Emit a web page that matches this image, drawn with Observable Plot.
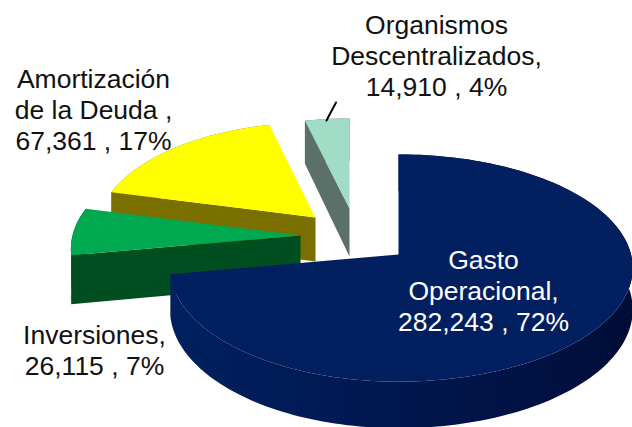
<!DOCTYPE html>
<html>
<head>
<meta charset="utf-8">
<script src="https://cdn.jsdelivr.net/npm/d3@7"></script>
<script src="https://cdn.jsdelivr.net/npm/@observablehq/plot@0.6"></script>
<style>html,body{margin:0;padding:0;background:#fff}svg{display:block}</style>
</head>
<body>
<div id="chart"></div>
<script>
const categories = ["Gasto Operacional", "Inversiones", "Amortización de la Deuda", "Organismos Descentralizados"];
const values = [282243, 26115, 67361, 14910];
const percents = [72, 7, 17, 4];
const nameLines = [["Gasto", "Operacional,"], ["Inversiones,"], ["Amortización", "de la Deuda ,"], ["Organismos", "Descentralizados,"]];

// layout of the exploded 3D view (not data)
const apexX = [398, 300, 315, 349];
const apexY = [254, 235, 217, 208];
const radiusScale = [1, 1, 0.95, 0.9];
const rightStretch = [1.02, 1, 1, 1];
const leftSquash = [0.995, 1, 1, 1.02];
const depth = [41, 48, 44, 48];
const topFill = ["#02205f", "#00a850", "#ffff00", "#a0dcc6"];
const wallFill = ["url(#blueWall)", "#014f20", "#7a7000", "#5a7068"];
const labelX = [483, 94, 93, 436];
const labelY = [290, 349, 109, 55];
const labelFill = ["#ffffff", "#111111", "#111111", "#111111"];

const R = 228, BY = 112, PERSP = 0.119;
const total = d3.sum(values);
let acc = 0;
const spans = values.map(v => { const a = acc; acc += v; return [a / total * 2 * Math.PI, acc / total * 2 * Math.PI]; });

function project(i, t, r, down) {
  const X = Math.sin(t) * r, Y = Math.cos(t) * r, k = 1 / (1 + PERSP * Y), s = radiusScale[i];
  const sx = X > 0 ? rightStretch[i] : leftSquash[i];
  return {x: apexX[i] + R * s * sx * X * k, y: apexY[i] - BY * s * Y * k + (down ? depth[i] * k : 0)};
}
function arc(i, down) {
  const [a, b] = spans[i], n = Math.max(8, Math.ceil((b - a) * 40));
  return d3.range(n + 1).map(j => project(i, a + (b - a) * j / n, 1, down));
}
const poly = (pts, fill) => Plot.line(pts, {x: "x", y: "y", fill, stroke: "none"});

const marks = [
  () => {
    const ns = "http://www.w3.org/2000/svg";
    const defs = document.createElementNS(ns, "defs");
    defs.innerHTML = `<linearGradient id="blueWall" gradientUnits="userSpaceOnUse" x1="170" y1="0" x2="632" y2="0">
      <stop offset="0" stop-color="#02205f"/><stop offset="0.15" stop-color="#001d5a"/><stop offset="0.5" stop-color="#00174e"/><stop offset="0.85" stop-color="#001040"/><stop offset="1" stop-color="#000d36"/></linearGradient>`;
    return defs;
  }
];
for (const i of [3, 2, 1, 0]) {
  const top = arc(i, false), bottom = arc(i, true);
  marks.push(poly([...top, ...bottom.slice().reverse()], wallFill[i]));
  marks.push(poly([project(i, spans[i][0], 0, false), top[0], bottom[0], project(i, spans[i][0], 0, true)], wallFill[i]));
  marks.push(poly([project(i, 0, 0, false), ...top], topFill[i]));
}
const labels = categories.map((c, i) => ({
  text: [...nameLines[i], `${d3.format(",")(values[i])} , ${percents[i]}%`].join("\n"),
  x: labelX[i], y: labelY[i], fill: labelFill[i]
}));
marks.push(Plot.text(labels, {
  x: "x", y: "y", text: "text", fill: d => d.fill, fontSize: 26.5, lineHeight: 1.17,
  fontFamily: "'Liberation Sans', Arial, sans-serif", textAnchor: "middle", lineAnchor: "middle"
}));
marks.push(Plot.line([{x: 335.5, y: 102}, {x: 326, y: 120}], {x: "x", y: "y", stroke: "#000", strokeWidth: 2}));

document.getElementById("chart").append(Plot.plot({
  width: 632, height: 427, margin: 0,
  style: {background: "#fff"},
  x: {axis: null, type: "linear", domain: [0, 632], range: [0, 632]},
  y: {axis: null, type: "linear", domain: [0, 427], range: [0, 427]},
  color: {type: "identity"},
  marks
}));
</script>
</body>
</html>
